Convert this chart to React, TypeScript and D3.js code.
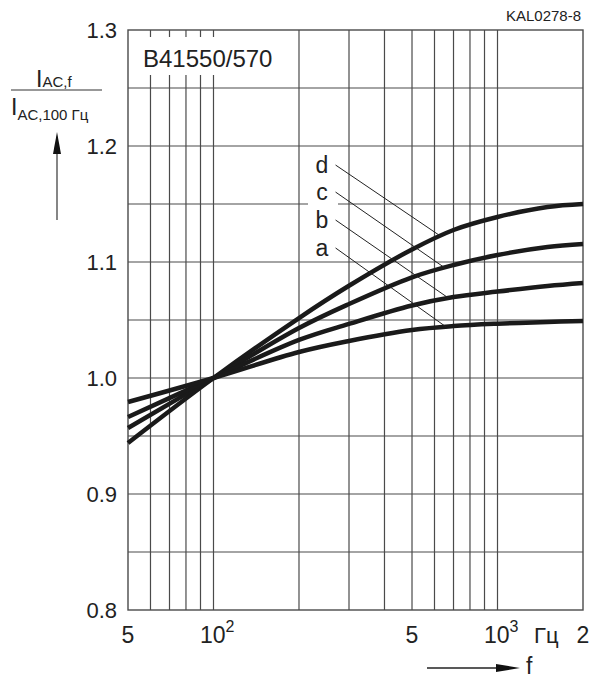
import React from "react";
import * as d3 from "d3";

const freqs = [50, 100, 200, 300, 500, 700, 1000, 1500, 2000];
const seriesD = [0.944, 1.0, 1.0517, 1.0795, 1.1108, 1.1276, 1.1388, 1.1474, 1.15];
const seriesC = [0.9569, 1.0, 1.0431, 1.0638, 1.0868, 1.0974, 1.106, 1.1129, 1.1155];
const seriesB = [0.9664, 1.0, 1.0328, 1.0466, 1.0625, 1.0698, 1.0745, 1.0793, 1.0819];
const seriesA = [0.9793, 1.0, 1.0224, 1.0319, 1.0414, 1.0448, 1.0468, 1.0483, 1.0491];
const seriesNames = ["d", "c", "b", "a"];
const seriesValues = [seriesD, seriesC, seriesB, seriesA];

// leader annotations (label start and curve end, in data units)
const leaderStartFreq = 269;
const leaderStartVal = [1.1836, 1.1603, 1.1362, 1.1121];
const leaderEndFreq = [630, 651, 672, 658];
const labelFreq = 241;

const yTicks = [0.8, 0.9, 1.0, 1.1, 1.2, 1.3];
const yGrid = [0.85, 0.9, 0.95, 1.0, 1.05, 1.1, 1.15, 1.2, 1.25];
const xGrid = [60, 70, 80, 90, 100, 200, 300, 400, 500, 600, 700, 800, 900, 1000];

const FONT = "'Liberation Sans', Arial, Helvetica, sans-serif";

export default function App() {
  const left = 128, right = 583, top = 30, bottom = 610;
  const x = d3.scaleLog().domain([50, 2000]).range([left, right]);
  const y = d3.scaleLinear().domain([0.8, 1.3]).range([bottom, top]);

  const line = d3
    .line<[number, number]>()
    .x((d) => x(d[0]))
    .y((d) => y(d[1]))
    .curve(d3.curveCatmullRom.alpha(0.5));

  const gridColor = "#4a4a4a";

  const interp = (vals: number[], f: number) => {
    const lf = Math.log10(f);
    for (let i = 0; i < freqs.length - 1; i++) {
      const a = Math.log10(freqs[i]), b = Math.log10(freqs[i + 1]);
      if (lf >= a && lf <= b) {
        const t = (lf - a) / (b - a);
        return vals[i] + t * (vals[i + 1] - vals[i]);
      }
    }
    return vals[vals.length - 1];
  };

  return (
    <svg
      width={593}
      height={678}
      style={{ position: "absolute", left: 0, top: 0, background: "#fff" }}
      fontFamily={FONT}
    >
      <rect x={0} y={0} width={593} height={678} fill="#fff" />
      {/* grid */}
      {yGrid.map((v) => (
        <line key={"h" + v} x1={left} x2={right} y1={y(v)} y2={y(v)} stroke={gridColor} strokeWidth={1.2} />
      ))}
      {xGrid.map((f) => (
        <line key={"v" + f} x1={x(f)} x2={x(f)} y1={top} y2={bottom} stroke={gridColor} strokeWidth={1.2} />
      ))}
      <rect x={left} y={top} width={right - left} height={bottom - top} fill="none" stroke={gridColor} strokeWidth={1.4} />

      {/* title box */}
      <rect x={139} y={37} width={138} height={38} fill="#fff" />
      <text x={143} y={67} fontSize={24} fill="#222">B41550/570</text>

      {/* curves */}
      {seriesValues.map((vals, i) => (
        <path
          key={seriesNames[i]}
          d={line(freqs.map((f, j) => [f, vals[j]] as [number, number])) || ""}
          fill="none"
          stroke="#1a1a1a"
          strokeWidth={4.5}
        />
      ))}

      {/* label box & leaders */}
      <rect x={308} y={150} width={30} height={108} fill="#fff" />
      {seriesValues.map((vals, i) => (
        <g key={"l" + i}>
          <line
            x1={x(leaderStartFreq)}
            y1={y(leaderStartVal[i])}
            x2={x(leaderEndFreq[i])}
            y2={y(interp(vals, leaderEndFreq[i]))}
            stroke="#222"
            strokeWidth={1}
          />
          <text
            x={x(labelFreq)}
            y={y(leaderStartVal[i]) + 8}
            fontSize={23}
            textAnchor="middle"
            fill="#222"
          >
            {seriesNames[i]}
          </text>
        </g>
      ))}

      {/* y tick labels */}
      {yTicks.map((v) => (
        <text key={"yt" + v} x={117} y={y(v) + 8} fontSize={22} textAnchor="end" fill="#222">
          {v.toFixed(1)}
        </text>
      ))}

      {/* x tick labels */}
      <text x={x(50)} y={643} fontSize={23} textAnchor="middle" fill="#222">5</text>
      <text x={200} y={643} fontSize={23} fill="#222">
        10<tspan dy={-11} fontSize={16}>2</tspan>
      </text>
      <text x={x(500)} y={643} fontSize={23} textAnchor="middle" fill="#222">5</text>
      <text x={484} y={643} fontSize={23} fill="#222">
        10<tspan dy={-11} fontSize={16}>3</tspan>
      </text>
      <text x={534} y={643} fontSize={22} fill="#222">Гц</text>
      <text x={x(2000)} y={643} fontSize={23} textAnchor="middle" fill="#222">2</text>

      {/* x axis arrow */}
      <line x1={427} x2={500} y1={668} y2={668} stroke="#222" strokeWidth={1.3} />
      <path d="M496,664 L520,668 L496,672 Z" fill="#111" />
      <text x={526} y={674} fontSize={23} fill="#222">f</text>

      {/* y axis label */}
      <text x={36} y={87} fontSize={23} fill="#222">
        I<tspan fontSize={15} dy={0}>AC,f</tspan>
      </text>
      <line x1={11} x2={102} y1={90} y2={90} stroke="#333" strokeWidth={1.2} />
      <text x={11} y={115} fontSize={23} fill="#222">
        I<tspan fontSize={15} dy={5}>AC,100 Гц</tspan>
      </text>
      <line x1={57} x2={57} y1={150} y2={220} stroke="#444" strokeWidth={1.3} />
      <path d="M53,154 L57,132 L61,154 Z" fill="#111" />

      {/* code */}
      <text x={581} y={21} fontSize={15} textAnchor="end" fill="#222">KAL0278-8</text>
    </svg>
  );
}
